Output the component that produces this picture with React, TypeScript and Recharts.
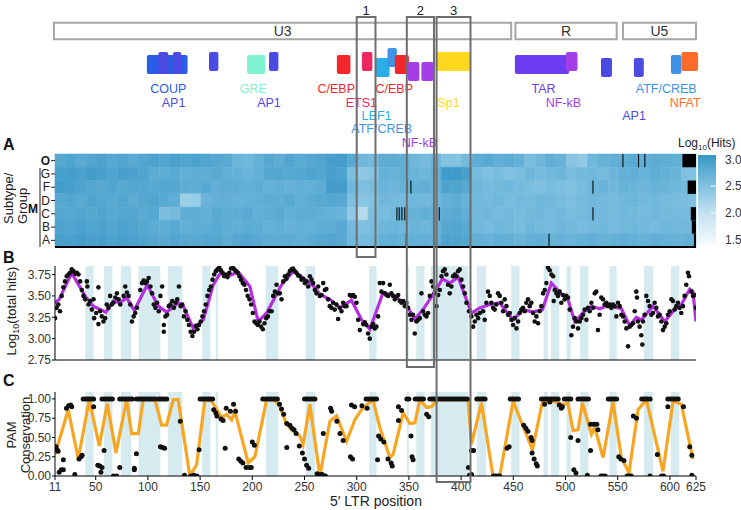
import React from 'react';
import { ComposedChart, XAxis, YAxis, ReferenceArea, ReferenceDot, ReferenceLine, Scatter, Line } from 'recharts';

const FONT = '"Liberation Sans", Arial, Helvetica, sans-serif';
const X_DOMAIN: [number, number] = [11, 625];
const X_TICKS = [11, 50, 100, 150, 200, 250, 300, 350, 400, 450, 500, 550, 600, 625];
const PLOT_MARGIN_LEFT = 55;
const PLOT_MARGIN_RIGHT = 45;

// ---- LTR regions and transcription factor sites ----
const regions = [
  { name: 'U3', start: 10, end: 448 },
  { name: 'R', start: 452, end: 549 },
  { name: 'U5', start: 555, end: 625 },
];

const sites = [
  { tf: 'COUP', start: 99, end: 138, lane: 'mid' },
  { tf: 'AP1', start: 110, end: 119.5, lane: 'tall' },
  { tf: 'AP1', start: 124, end: 132, lane: 'tall' },
  { tf: 'AP1', start: 158.5, end: 167.5, lane: 'high' },
  { tf: 'GRE', start: 195, end: 212.5, lane: 'mid' },
  { tf: 'AP1', start: 216, end: 225, lane: 'high' },
  { tf: 'C/EBP', start: 281, end: 294, lane: 'mid' },
  { tf: 'ETS1', start: 305, end: 315, lane: 'high' },
  { tf: 'LEF1', start: 318, end: 331.5, lane: 'low' },
  { tf: 'ATF/CREB', start: 329.5, end: 338.5, lane: 'top' },
  { tf: 'C/EBP', start: 336.5, end: 350, lane: 'mid' },
  { tf: 'NF-kB', start: 349, end: 360, lane: 'lowest' },
  { tf: 'NF-kB', start: 362, end: 373.5, lane: 'lowest' },
  { tf: 'Sp1', start: 375.5, end: 408.5, lane: 'high' },
  { tf: 'TAR', start: 451.5, end: 503.5, lane: 'mid' },
  { tf: 'NF-kB', start: 500.5, end: 511.5, lane: 'high' },
  { tf: 'AP1', start: 534, end: 544.5, lane: 'low' },
  { tf: 'AP1', start: 565.5, end: 575, lane: 'low' },
  { tf: 'ATF/CREB', start: 601, end: 611, lane: 'mid' },
  { tf: 'NFAT', start: 611, end: 627, lane: 'high' },
];

const siteLabels = [
  { tf: 'COUP', pos: 119.6, row: 1 },
  { tf: 'AP1', pos: 124.6, row: 2 },
  { tf: 'GRE', pos: 201, row: 1 },
  { tf: 'AP1', pos: 216, row: 2 },
  { tf: 'C/EBP', pos: 280.4, row: 1 },
  { tf: 'C/EBP', pos: 336, row: 1 },
  { tf: 'ETS1', pos: 304.4, row: 2 },
  { tf: 'LEF1', pos: 319, row: 3 },
  { tf: 'ATF/CREB', pos: 324, row: 4 },
  { tf: 'NF-kB', pos: 360, row: 5 },
  { tf: 'Sp1', pos: 388, row: 2 },
  { tf: 'TAR', pos: 479, row: 1 },
  { tf: 'NF-kB', pos: 498, row: 2 },
  { tf: 'ATF/CREB', pos: 596.5, row: 1 },
  { tf: 'NFAT', pos: 614.6, row: 2 },
  { tf: 'AP1', pos: 565.7, row: 3 },
];

// CRISPR target windows (boxes 1-3)
const windows = [
  { id: '1', start: 300, end: 318, reach: 'heatmap' },
  { id: '2', start: 348, end: 374, reach: 'hits' },
  { id: '3', start: 376.5, end: 409, reach: 'pam' },
];

// ---- heatmap (log10 hits), 10-position columns ----
const heatRows = ['O', 'G', 'F', 'D', 'C', 'B', 'A'];
const heatStarts = [11, 21, 31, 41, 51, 61, 71, 81, 91, 101, 111, 121, 131, 141, 151, 161, 171, 181, 191, 201,
  211, 221, 231, 241, 251, 261, 271, 281, 291, 301, 311, 321, 331, 341, 351, 361, 371, 381, 391, 401,
  411, 421, 431, 441, 451, 461, 471, 481, 491, 501, 511, 521, 531, 541, 551, 561, 571, 581, 591, 601, 611, 621];
const heatO = [2.80, 2.85, 2.78, 2.82, 2.86, 2.80, 2.84, 2.78, 2.83, 2.86, 2.82, 2.88, 2.84, 2.87, 2.83, 2.80, 2.78,
  2.66, 2.62, 2.70, 2.80, 2.76, 2.82, 2.78, 2.80, 2.84, 2.90, 2.92, 2.78, 2.62, 2.60, 2.74, 2.76, 2.72,
  2.62, 2.58, 2.64, 2.50, 2.48, 2.60, 2.74, 2.78, 2.72, 2.76, 2.70, 2.55, 2.62, 2.72, 2.68, 2.45, 2.38,
  2.62, 2.70, 2.72, 2.74, 2.78, 2.72, 2.76, 2.74, 2.70, 2.72, 2.70];
const heatG = [2.90, 2.92, 2.88, 2.94, 2.90, 2.86, 2.90, 2.88, 2.84, 2.76, 2.74, 2.78, 2.72, 2.76, 2.74, 2.78, 2.72,
  2.70, 2.66, 2.72, 2.80, 2.82, 2.78, 2.80, 2.84, 2.82, 2.90, 2.86, 2.55, 2.42, 2.48, 2.70, 2.68, 2.72,
  2.66, 2.62, 2.70, 2.95, 2.96, 2.90, 2.58, 2.52, 2.56, 2.50, 2.55, 2.62, 2.58, 2.60, 2.64, 2.56, 2.60,
  2.62, 2.58, 2.64, 2.70, 2.72, 2.68, 2.74, 2.70, 2.66, 2.52, 2.50];
const heatF = [2.92, 2.90, 2.86, 2.82, 2.80, 2.84, 2.78, 2.82, 2.80, 2.78, 2.82, 2.80, 2.76, 2.74, 2.78, 2.72, 2.76,
  2.74, 2.72, 2.76, 2.70, 2.72, 2.68, 2.72, 2.70, 2.76, 2.94, 2.92, 2.62, 2.54, 2.56, 2.66, 2.64, 2.68,
  2.70, 2.72, 2.68, 2.86, 2.84, 2.80, 2.62, 2.58, 2.60, 2.62, 2.58, 2.55, 2.52, 2.56, 2.54, 2.50, 2.56,
  2.64, 2.66, 2.62, 2.68, 2.66, 2.64, 2.68, 2.66, 2.62, 2.60, 2.60];
const heatD = [2.80, 2.82, 2.78, 2.84, 2.80, 2.78, 2.82, 2.76, 2.80, 2.82, 2.78, 2.74, 2.30, 2.35, 2.66, 2.70, 2.72,
  2.68, 2.70, 2.72, 2.76, 2.74, 2.78, 2.72, 2.76, 2.78, 2.82, 2.80, 2.52, 2.46, 2.50, 2.62, 2.60, 2.58,
  2.62, 2.60, 2.64, 2.70, 2.74, 2.68, 2.60, 2.58, 2.62, 2.56, 2.60, 2.58, 2.62, 2.60, 2.56, 2.54, 2.58,
  2.62, 2.60, 2.58, 2.62, 2.64, 2.60, 2.62, 2.58, 2.56, 2.55, 2.52];
const heatC = [2.80, 2.78, 2.82, 2.80, 2.84, 2.78, 2.80, 2.82, 2.78, 2.80, 2.55, 2.58, 2.74, 2.76, 2.72, 2.78, 2.76,
  2.74, 2.78, 2.72, 2.74, 2.78, 2.72, 2.76, 2.74, 2.72, 2.70, 2.68, 2.40, 2.12, 2.55, 2.56, 2.60, 2.70,
  2.68, 2.72, 2.70, 2.76, 2.78, 2.72, 2.60, 2.62, 2.58, 2.60, 2.56, 2.60, 2.62, 2.58, 2.60, 2.56, 2.58,
  2.62, 2.60, 2.58, 2.62, 2.60, 2.58, 2.62, 2.60, 2.58, 2.58, 2.58];
const heatB = [2.86, 2.84, 2.88, 2.84, 2.86, 2.82, 2.86, 2.84, 2.80, 2.76, 2.74, 2.78, 2.72, 2.76, 2.74, 2.78, 2.74,
  2.72, 2.76, 2.74, 2.70, 2.72, 2.68, 2.72, 2.70, 2.74, 2.76, 2.78, 2.60, 2.52, 2.56, 2.64, 2.66, 2.62,
  2.66, 2.64, 2.68, 2.80, 2.82, 2.78, 2.60, 2.58, 2.62, 2.60, 2.56, 2.62, 2.60, 2.58, 2.62, 2.60, 2.56,
  2.60, 2.62, 2.58, 2.60, 2.62, 2.60, 2.58, 2.62, 2.60, 2.60, 2.60];
const heatA = [2.90, 2.88, 2.92, 2.88, 2.90, 2.86, 2.90, 2.88, 2.84, 2.80, 2.78, 2.82, 2.80, 2.78, 2.82, 2.80, 2.76,
  2.80, 2.82, 2.78, 2.76, 2.74, 2.76, 2.72, 2.76, 2.80, 2.82, 2.78, 2.62, 2.58, 2.60, 2.70, 2.72, 2.68,
  2.70, 2.72, 2.70, 2.86, 2.84, 2.82, 2.70, 2.68, 2.72, 2.70, 2.66, 2.70, 2.72, 2.68, 2.70, 2.66, 2.70,
  2.72, 2.68, 2.70, 2.72, 2.70, 2.68, 2.72, 2.70, 2.68, 2.70, 2.70];
const heatValues: Record<string, number[]> = { O: heatO, G: heatG, F: heatF, D: heatD, C: heatC, B: heatB, A: heatA };

// positions with no data (black)
const heatGaps = [
  { row: 'O', from: 612, to: 625 }, { row: 'O', from: 554.5, to: 555.5 }, { row: 'O', from: 569.5, to: 570.5 },
  { row: 'O', from: 575.5, to: 576.5 },
  { row: 'F', from: 617, to: 625 }, { row: 'F', from: 347.8, to: 348.8 }, { row: 'F', from: 351.4, to: 352.4 },
  { row: 'F', from: 525.8, to: 526.8 },
  { row: 'C', from: 620, to: 625 }, { row: 'C', from: 338, to: 339 }, { row: 'C', from: 340.2, to: 341.2 },
  { row: 'C', from: 342.8, to: 343.8 }, { row: 'C', from: 345.6, to: 346.6 }, { row: 'C', from: 378.6, to: 379.6 },
  { row: 'C', from: 525.8, to: 526.8 },
  { row: 'B', from: 621, to: 625 },
  { row: 'A', from: 623, to: 625 }, { row: 'A', from: 347, to: 348 }, { row: 'A', from: 483.7, to: 484.7 },
];

const colorbarTicks = [1.5, 2.0, 2.5, 3.0];

// ---- shaded positions (PAM windows) ----
const bands = [[40, 48], [58, 66], [74, 84], [91, 112], [119, 133], [152, 160], [165, 167], [213, 225], [251, 260],
  [312, 319], [348, 350], [357, 365], [371, 407], [415, 424], [448, 456], [479, 483], [486, 494], [501, 505],
  [514, 522], [542, 549], [575, 584], [601, 609]];

// ---- panel B: log10(total hits) ----
const hitsDots = [[11, 3.24], [12.6, 3.36], [14.2, 3.4], [15.8, 3.32], [17.4, 3.5], [19, 3.6], [20.6, 3.67], [22.2, 3.73],
  [23.8, 3.75], [25.4, 3.77], [27, 3.81], [28.6, 3.79], [30.3, 3.76], [31.9, 3.77], [33.5, 3.75], [35.1, 3.67],
  [36.7, 3.57], [38.3, 3.5], [39.9, 3.46], [41.5, 3.67], [42, 3.61], [43.1, 3.4], [44.7, 3.44], [46.3, 3.34],
  [47.9, 3.46], [48.5, 3.24], [50.4, 3.3], [52.6, 3.6], [52.6, 3.17], [54.2, 3.32], [55.8, 3.26], [57.4, 3.2],
  [59, 3.24], [60.6, 3.4], [62.2, 3.36], [63.8, 3.5], [65.4, 3.4], [67, 3.42], [68.7, 3.48], [70.3, 3.53],
  [71.9, 3.46], [73.5, 3.4], [76.7, 3.5], [78.3, 3.61], [79.9, 3.54], [81.5, 3.5], [83.1, 3.4], [84.7, 3.2],
  [86.3, 3.26], [87.9, 3.3], [89.5, 3.36], [92.7, 3.57], [94.3, 3.65], [95.9, 3.68], [97.5, 3.65], [99.1, 3.67],
  [100.7, 3.71], [102.4, 3.61], [104, 3.53], [105.6, 3.4], [107.2, 3.36], [108.8, 3.42], [110.4, 3.32], [112, 3.5],
  [113.6, 3.61], [115.2, 3.16], [115.2, 3.08], [116.8, 3.26], [118.4, 3.28], [120, 3.38], [121.7, 3.4], [123.3, 3.44],
  [124.9, 3.36], [126.5, 3.42], [128.1, 3.46], [129.7, 3.61], [131.3, 3.38], [132.9, 3.4], [134.5, 3.26], [136.1, 3.32],
  [137.7, 3.22], [139.3, 3.16], [140.9, 3.08], [142.6, 3.03], [144.2, 3.08], [145.8, 3.15], [147.4, 3.11], [149, 3.16],
  [150.6, 3.2], [152.2, 3.26], [153.8, 3.32], [155.4, 3.4], [157, 3.5], [158.7, 3.57], [160.3, 3.61], [161.9, 3.69],
  [163.5, 3.75], [165.1, 3.79], [166.7, 3.81], [168.3, 3.83], [169.9, 3.8], [171.5, 3.77], [173.1, 3.73], [174.7, 3.75],
  [176.3, 3.72], [178, 3.77], [179.6, 3.82], [181.2, 3.83], [182.8, 3.81], [184.4, 3.79], [186, 3.77], [187.6, 3.73],
  [189.2, 3.69], [190.8, 3.65], [192.4, 3.63], [194, 3.57], [195.6, 3.5], [197.3, 3.46], [198.9, 3.4], [200.5, 3.3],
  [202.1, 3.2], [203.7, 3.18], [205.3, 3.16], [206.9, 3.2], [208.5, 3.14], [210.1, 3.11], [211.7, 3.18], [213.3, 3.24],
  [214.9, 3.26], [216.5, 3.32], [218.4, 3.32], [220, 3.5], [221.6, 3.55], [223.2, 3.63], [224.6, 3.53], [226.4, 3.53],
  [228, 3.46], [229.6, 3.67], [231.2, 3.73], [232.8, 3.7], [234.4, 3.75], [236, 3.79], [237.5, 3.81], [239.1, 3.82],
  [240.7, 3.79], [242.3, 3.77], [243.9, 3.74], [245.5, 3.73], [247.1, 3.69], [248.7, 3.7], [250.3, 3.65], [251.9, 3.67],
  [253.5, 3.61], [255.1, 3.73], [256.7, 3.69], [258.3, 3.65], [259.9, 3.57], [261.5, 3.53], [263.1, 3.61], [264.7, 3.5],
  [266.3, 3.51], [267.9, 3.65], [269.5, 3.57], [271, 3.58], [272.6, 3.46], [274.2, 3.38], [275.8, 3.36], [277.4, 3.42],
  [279, 3.34], [280.6, 3.4], [282.2, 3.23], [283.8, 3.36], [285.4, 3.32], [287, 3.42], [288.6, 3.38], [290.2, 3.38],
  [293.4, 3.51], [295, 3.5], [296.6, 3.51], [298.2, 3.49], [299.8, 3.42], [301.4, 3.22], [303, 3.1], [306.2, 3.17],
  [307.8, 3.19], [309.3, 3.16], [310.9, 3.06], [312.5, 3.0], [314.1, 3.14], [315.7, 3.17], [317.3, 3.12], [318.9, 3.14],
  [320.5, 3.26], [322.1, 3.65], [323.7, 3.55], [325.3, 3.65], [326.9, 3.53], [328.5, 3.51], [330.1, 3.5], [331.7, 3.63],
  [333.3, 3.53], [334.9, 3.5], [336.5, 3.46], [338.1, 3.49], [339.7, 3.51], [341.3, 3.44], [342.9, 3.42], [344.5, 3.44],
  [346.1, 3.38], [347.6, 3.42], [349.2, 3.36], [350.8, 3.28], [352.4, 3.22], [354, 3.28], [355.6, 3.06], [357.2, 3.2],
  [358.8, 3.22], [360.4, 3.24], [362, 3.53], [363.6, 3.32], [365.2, 3.28], [366.8, 3.26], [368.4, 3.3], [370, 3.5],
  [371.6, 3.67], [373.2, 3.61], [374.8, 3.53], [376.4, 3.38], [378, 3.51], [379.6, 3.57], [381.2, 3.73], [382.7, 3.79],
  [384.3, 3.81], [385.9, 3.75], [387.5, 3.63], [389.1, 3.53], [390.7, 3.61], [392.3, 3.73], [393.9, 3.75], [395.5, 3.73],
  [397.1, 3.79], [398.7, 3.81], [400.3, 3.69], [401.9, 3.61], [403.5, 3.53], [405.1, 3.42], [407.6, 3.32], [409.9, 3.26],
  [411.5, 3.14], [413.1, 3.2], [414.7, 3.28], [416.3, 3.24], [417.9, 3.3], [421, 3.32], [422.6, 3.22], [424.2, 3.42],
  [425.8, 3.55], [427.4, 3.5], [429, 3.42], [430.6, 3.36], [432.2, 3.34], [433.8, 3.4], [435.4, 3.53], [437, 3.5],
  [438.6, 3.42], [440.2, 3.32], [441.8, 3.46], [443.4, 3.38], [445, 3.28], [446.6, 3.3], [448.2, 3.22], [449.8, 3.16],
  [451.4, 3.24], [453, 3.12], [454.6, 3.2], [456.1, 3.3], [457.7, 3.34], [459.3, 3.36], [460.9, 3.32], [462.5, 3.42],
  [464.1, 3.46], [465.7, 3.38], [467.3, 3.42], [468.9, 3.3], [470.5, 3.2], [472.1, 3.26], [473.7, 3.18], [475.3, 3.32],
  [476.9, 3.38], [478.5, 3.53], [480.1, 3.57], [481.7, 3.65], [483.3, 3.83], [484.9, 3.8], [486.5, 3.75], [488.1, 3.73],
  [488.7, 3.44], [489.7, 3.57], [491.3, 3.53], [492.8, 3.5], [494.4, 3.55], [496, 3.42], [497.6, 3.51], [499.2, 3.46],
  [500.8, 3.5], [502.4, 3.48], [504, 3.34], [505.6, 3.04], [507.2, 3.14], [508.8, 3.24], [510.4, 3.2], [512, 3.12],
  [513.6, 3.2], [515.2, 3.24], [516.8, 3.28], [518.4, 3.34], [520, 3.22], [521.6, 3.36], [523.2, 3.32], [524.8, 3.42],
  [526.4, 3.36], [528, 3.53], [529.5, 3.55], [531.1, 3.1], [532.7, 3.28], [534.3, 3.48], [535.9, 3.46], [537.5, 3.4],
  [539.1, 3.42], [540.7, 3.38], [542.3, 3.4], [543.9, 3.36], [545.5, 3.4], [547.1, 3.38], [548.7, 3.26], [550.3, 3.42],
  [551.9, 3.38], [553.5, 3.28], [555.1, 3.26], [556.7, 3.2], [558.3, 3.12], [559.9, 2.91], [561.5, 3.14], [563.1, 3.16],
  [564.7, 3.18], [566.3, 3.32], [567.8, 3.55], [568.5, 3.48], [569.4, 3.2], [571, 3.14], [572.6, 3.04], [573.6, 2.93],
  [574.2, 3.2], [575.8, 3.28], [577.4, 3.5], [579, 3.44], [580.6, 3.38], [582.2, 3.28], [583.8, 3.3], [585.4, 3.42],
  [587, 3.36], [588.6, 3.26], [590.2, 3.28], [591.8, 3.2], [593.4, 3.1], [595, 3.14], [596.6, 3.18], [598.2, 3.28],
  [599.8, 3.32], [601.4, 3.46], [603, 3.44], [604.5, 3.34], [606.1, 3.38], [607.7, 3.42], [609.3, 3.36], [610.9, 3.3],
  [612.5, 3.38], [614.1, 3.5], [615.7, 3.63], [617.3, 3.77], [618.3, 3.73], [620.5, 3.55], [622.1, 3.5], [623.7, 3.51],
  [625, 3.36]];

const hitsTrend = [[11, 3.42], [15.1, 3.46], [27, 3.77], [39.7, 3.5], [47.7, 3.38], [59.8, 3.31], [66.8, 3.44], [73.2, 3.42],
  [79.6, 3.48], [86.9, 3.33], [99.4, 3.63], [109.9, 3.38], [117.9, 3.31], [129.1, 3.42], [133.9, 3.38], [143.4, 3.12],
  [153, 3.22], [162.6, 3.63], [169, 3.76], [178.5, 3.74], [186.5, 3.78], [197.7, 3.61], [205.6, 3.2], [213.7, 3.3],
  [228, 3.63], [239.2, 3.79], [248.7, 3.71], [258.3, 3.62], [264.7, 3.52], [274.3, 3.46], [283.9, 3.36], [295, 3.45],
  [304.6, 3.22], [312.6, 3.11], [325.3, 3.54], [336.5, 3.5], [347.7, 3.39], [355.7, 3.23], [363.6, 3.34], [373.2, 3.52],
  [382.2, 3.7], [389.2, 3.65], [397.1, 3.72], [409.9, 3.3], [417.9, 3.36], [427.5, 3.4], [437, 3.42], [441.8, 3.34],
  [449.8, 3.22], [459.4, 3.34], [469, 3.31], [477.9, 3.34], [486.5, 3.65], [496.1, 3.52], [502.4, 3.46], [508.8, 3.2],
  [518.4, 3.32], [524.8, 3.38], [532.8, 3.35], [540.7, 3.39], [553.5, 3.35], [561.5, 3.15], [567.9, 3.25], [572.7, 3.22],
  [583.8, 3.38], [595, 3.2], [604.6, 3.34], [611, 3.4], [619, 3.58], [622.1, 3.55], [625, 3.2]];

// ---- panel C: PAM conservation ----
const pamDots = [
  [38, 1], [40, 1], [42, 1], [44, 1], [46, 1], [48, 1], [56, 1], [58, 1], [60, 1], [62, 1], [64, 1], [66, 1],
  [73, 1], [75, 1], [77, 1], [79, 1], [81, 1], [83, 1], [85, 1], [89, 1], [91, 1], [93, 1], [95, 1], [97, 1], [99, 1],
  [101, 1], [103, 1], [105, 1], [107, 1], [110, 1], [112, 1], [114, 1], [116, 1], [118, 1], [150, 1], [152, 1],
  [154, 1], [156, 1], [158, 1], [160, 1], [162, 1], [210, 1], [212, 1], [214, 1], [216, 1], [218, 1], [220, 1],
  [222, 1], [224, 1], [250, 1], [252, 1], [254, 1], [256, 1], [258, 1], [260, 1], [309, 1], [311, 1], [313, 1],
  [315, 1], [317, 1], [319, 1], [348, 1], [350, 1], [356, 1], [358, 1], [360, 1], [362, 1], [364, 1], [370, 1],
  [372, 1], [374, 1], [376, 1], [378, 1], [380, 1], [382, 1], [384, 1], [386, 1], [388, 1], [390, 1], [392, 1],
  [394, 1], [396, 1], [398, 1], [400, 1], [402, 1], [404, 1], [406, 1], [415, 1], [417, 1], [419, 1], [421, 1],
  [423, 1], [447, 1], [449, 1], [451, 1], [453, 1], [455, 1], [477, 1], [479, 1], [481, 1], [483, 1], [485, 1],
  [487, 1], [489, 1], [491, 1], [493, 1], [499, 1], [501, 1], [503, 1], [505, 1], [512, 1], [514, 1], [516, 1],
  [518, 1], [520, 1], [522, 1], [541, 1], [543, 1], [545, 1], [547, 1], [549, 1], [573, 1], [575, 1], [577, 1],
  [579, 1], [581, 1], [598, 1], [600, 1], [602, 1], [604, 1], [606, 1], [608, 1],
  [12, 0.38], [13, 0.34], [14, 0.32], [17, 0.08], [19, 0.08], [19, 0.21], [22, 0.88], [24, 0.91], [26, 0.92],
  [27, 0.9], [34, 0.22], [36, 0.25], [37, 0.27], [48, 0.9], [52, 0.14], [54, 0.13], [56, 0.11], [58, 0.33],
  [73, 0.11], [87, 0.1], [87, 0.08], [89, 0.29], [112, 0.38], [114, 0.37], [116, 0.36], [131, 0.71], [149, 0.34],
  [163, 0.86], [165, 0.82], [166, 0.78], [170, 0.74], [172, 0.72], [174, 0.36], [175, 0.88], [179, 0.84],
  [182, 0.93], [184, 0.84], [187, 0.22], [189, 0.19], [191, 0.17], [194, 0.11], [197, 0.11], [199, 0.11],
  [200, 0.44], [202, 0.4], [226, 0.93], [228, 0.87], [230, 0.8], [233, 0.68], [233, 0.37], [236, 0.66], [238, 0.62],
  [240, 0.6], [242, 0.55], [245, 0.39], [248, 0.3], [250, 0.22], [252, 0.14], [254, 0.1], [268, 0.55], [275, 0.88],
  [276, 0.84], [281, 0.71], [284, 0.55], [287, 0.46], [294, 0.25], [296, 0.22], [295, 0.92], [298, 0.9], [305, 0.91],
  [310, 0.88], [321, 0.52], [323, 0.48], [326, 0.44], [320, 0.21], [330, 0.22], [333, 0.17], [334, 0.13], [340, 0.9],
  [343, 0.85], [340, 0.72], [352, 0.52], [353, 0.25], [354, 0.21], [367, 0.8], [369, 0.77], [407, 0.11], [410, 0.33],
  [412, 0.33], [444, 0.36], [446, 0.38], [460, 0.66], [462, 0.62], [464, 0.58], [467, 0.5], [468, 0.46], [468, 0.3],
  [470, 0.22], [472, 0.16], [473, 0.13], [480, 0.93], [485, 0.96], [494, 0.92], [496, 0.88], [497, 0.9], [505, 0.5],
  [512, 0.46], [508, 0.08], [524, 0.67], [527, 0.67], [530, 0.67], [531, 0.6], [524, 0.33], [551, 0.25], [553, 0.22],
  [556, 0.2], [565, 0.78], [568, 0.75], [588, 0.28], [598, 0.9], [613, 0.9], [619, 0.38], [621, 0.27],
  [15, 0.05], [30, 0.02], [55, 0.05], [67, 0], [70, 0], [135, 0.01], [141, 0], [144, 0.01], [147, 0], [262, 0.03],
  [265, 0.02], [267, 0.02], [270, 0], [408, 0.01], [410, 0.02], [431, 0], [433, 0], [435, 0], [437, 0], [510, 0.04],
  [521, 0.01], [534, 0], [536, 0], [538, 0], [559, 0], [561, 0], [563, 0], [581, 0], [592, 0], [594, 0], [621, 0.01]];

const pamTrend = [[11, 0.28], [23.7, 0.86], [33.3, 0.22], [43.8, 0.99], [53.4, 0.39], [61.1, 0.94], [69.4, 0.3],
  [79.6, 0.99], [84.4, 0.55], [90.8, 0.55], [95.5, 0.99], [106.7, 0.99], [113.1, 0.66], [117.9, 0.66], [124.3, 0.99],
  [129, 0.99], [140.2, 0], [146.7, 0.15], [154.6, 0.99], [161, 0.97], [170.6, 0.76], [175.4, 0.8], [180.2, 0.73],
  [183.3, 0.84], [196.1, 0.17], [202.5, 0.25], [213.7, 0.99], [220, 0.99], [225.7, 0.93], [232.8, 0.67], [239.1, 0.58],
  [245.6, 0.52], [248.7, 0.41], [255.1, 0.93], [264.7, 0], [274.3, 0.71], [280.7, 0.78], [290.3, 0.45], [298.2, 0.73],
  [304.6, 0.86], [312.6, 0.96], [315.7, 0.98], [322.2, 0.63], [331.7, 0.24], [334.9, 0.28], [344.5, 0.82],
  [350.9, 0.68], [355.7, 0.69], [360.5, 0.99], [366.8, 0.89], [371.6, 0.9], [377, 0.99], [406.7, 0.99], [409.9, 0.41],
  [419.5, 0.95], [430.6, 0], [437, 0], [449.8, 0.97], [468.3, 0.34], [477.9, 0.96], [488.1, 0.97], [497.6, 0.93],
  [502.4, 0.94], [507.2, 0.59], [512, 0.6], [516.2, 0.95], [524.8, 0.54], [528, 0.63], [536, 0.24], [545.5, 0.96],
  [553.5, 0.24], [560.8, 0.04], [569.5, 0.86], [577.5, 0.99], [593.4, 0.06], [603, 0.97], [611, 0.93], [622.1, 0.22]];

// ---- styles ----
const TF_COLORS: Record<string, string> = {
  COUP: '#2a5ce6', AP1: '#4b4be3', GRE: '#7ff2d0', 'C/EBP': '#f2262b', ETS1: '#ee2660', LEF1: '#29aee8',
  'ATF/CREB': '#3f93e6', 'NF-kB': '#a53ee6', Sp1: '#ffd91f', TAR: '#6d3cf0', NFAT: '#ff6b2b',
};
const LANES: Record<string, [number, number]> = {
  top: [48, 67], high: [52, 71], tall: [52, 74], mid: [55, 74], low: [58, 77], lowest: [62, 81],
};
const LABEL_ROWS: Record<number, number> = { 1: 89, 2: 103, 3: 115.5, 4: 128.5, 5: 143 };
const WINDOW_BOTTOM: Record<string, number> = { heatmap: 257, hits: 367, pam: 482 };
const WINDOW_TOP = 17;
const BAND_FILL = '#d6ebef';

const HEAT_STOPS: [number, number[]][] = [
  [1.5, [247, 251, 253]], [2.0, [196, 226, 240]], [2.5, [130, 194, 225]], [3.0, [56, 151, 199]],
];
const hitsColor = (v: number) => {
  const c = Math.max(1.5, Math.min(3.0, v));
  for (let i = 0; i < HEAT_STOPS.length - 1; i++) {
    const [a, ca] = HEAT_STOPS[i];
    const [b, cb] = HEAT_STOPS[i + 1];
    if (c <= b) {
      const t = (c - a) / (b - a);
      const rgb = ca.map((x, k) => Math.round(x + (cb[k] - x) * t));
      return `rgb(${rgb.join(',')})`;
    }
  }
  return 'rgb(56,151,199)';
};

const toPoints = (rows: number[][]) => rows.map(([pos, val]) => ({ pos, val }));
const smallDot = (r: number) => (props: any) => <circle cx={props.cx} cy={props.cy} r={r} fill="#111" />;

const HeatTick = (props: any) => {
  const label = heatRows[6 - Math.floor(props.payload.value)];
  return (
    <text x={props.x} y={props.y} dy={4} textAnchor="end" fontSize={12} fill="#222"
      fontWeight={label === 'O' ? 'bold' : 'normal'}>{label}</text>
  );
};

const abs = (top: number, height: number, left = 0, width = 741): React.CSSProperties => ({
  position: 'absolute', top, left, width, height,
});

export default function App() {
  return (
    <div style={{ position: 'absolute', left: 0, top: 0, width: 741, height: 510, background: '#fff', fontFamily: FONT, overflow: 'hidden' }}>
      {/* LTR map */}
      <div style={abs(0, 152)}>
        <ComposedChart width={741} height={152} margin={{ top: 0, right: PLOT_MARGIN_RIGHT, bottom: 0, left: PLOT_MARGIN_LEFT }}>
          <XAxis type="number" dataKey="pos" domain={X_DOMAIN} allowDataOverflow hide />
          <YAxis type="number" domain={[0, 152]} reversed allowDataOverflow hide />
          {regions.map((r) => (
            <ReferenceArea key={r.name} x1={r.start} x2={r.end} y1={22.7} y2={39.3} fill="#fff" fillOpacity={1}
              stroke="#a6a6a6" strokeWidth={2} ifOverflow="visible"
              label={{ value: r.name, position: 'center', fill: '#333', fontSize: 14 }} />
          ))}
          {sites.map((s, i) => (
            <ReferenceArea key={`site-${i}`} x1={s.start} x2={s.end} y1={LANES[s.lane][0]} y2={LANES[s.lane][1]}
              fill={TF_COLORS[s.tf]} fillOpacity={1} stroke="none" radius={2} ifOverflow="visible" />
          ))}
          {siteLabels.map((l, i) => (
            <ReferenceDot key={`lab-${i}`} x={l.pos} y={LABEL_ROWS[l.row]} r={0} fill="none" stroke="none" ifOverflow="visible"
              label={{ value: l.tf, position: 'center', fill: TF_COLORS[l.tf], fontSize: 12.5 }} />
          ))}
        </ComposedChart>
      </div>

      {/* A: heatmap */}
      <div style={abs(140, 115)}>
        <ComposedChart width={741} height={115} margin={{ top: 14, right: PLOT_MARGIN_RIGHT, bottom: 8, left: 30 }}>
          <XAxis type="number" dataKey="pos" domain={X_DOMAIN} allowDataOverflow hide />
          <YAxis type="number" domain={[0, 7]} allowDataOverflow width={25} ticks={[0.5, 1.5, 2.5, 3.5, 4.5, 5.5, 6.5]}
            tick={<HeatTick />} axisLine={false} tickLine={{ stroke: '#222' }} tickSize={4} tickMargin={1} interval={0} />
          {heatRows.map((row, r) => heatValues[row].map((v, i) => (
            <ReferenceArea key={`${row}-${i}`} x1={heatStarts[i]} x2={heatStarts[i + 1] ?? 625} y1={6 - r} y2={7 - r}
              fill={hitsColor(v)} fillOpacity={1} stroke={hitsColor(v)} strokeWidth={0.6} ifOverflow="visible" />
          )))}
          {heatGaps.map((g, i) => {
            const r = heatRows.indexOf(g.row);
            return (
              <ReferenceArea key={`gap-${i}`} x1={g.from} x2={g.to} y1={6 - r} y2={7 - r}
                fill="#000" fillOpacity={1} stroke="none" ifOverflow="visible" />
            );
          })}
          <ReferenceLine y={0} stroke="#000" strokeWidth={2} ifOverflow="visible" />
        </ComposedChart>
      </div>

      {/* colour bar */}
      <div style={abs(140, 120, 690, 51)}>
        <ComposedChart width={51} height={120} margin={{ top: 15, right: 0, bottom: 15, left: 8 }}>
          <defs>
            <linearGradient id="hitsGrad" x1="0" y1="1" x2="0" y2="0">
              <stop offset="0%" stopColor={hitsColor(1.4)} />
              <stop offset="35%" stopColor={hitsColor(2.0)} />
              <stop offset="65%" stopColor={hitsColor(2.5)} />
              <stop offset="100%" stopColor={hitsColor(3.08)} />
            </linearGradient>
          </defs>
          <XAxis type="number" dataKey="x" domain={[0, 1]} allowDataOverflow hide />
          <YAxis type="number" orientation="right" domain={[1.4, 3.08]} allowDataOverflow width={25}
            ticks={colorbarTicks} interval={0} tickFormatter={(v: number) => v.toFixed(1)} axisLine={false} tickLine={false}
            tickMargin={3} tick={{ fontSize: 12, fill: '#333' }} />
          <ReferenceArea x1={0} x2={1} y1={1.4} y2={3.08} fill="url(#hitsGrad)" fillOpacity={1} stroke="none" ifOverflow="visible" />
          {colorbarTicks.slice(1, 3).map((t) => (
            <ReferenceLine key={t} segment={[{ x: 0.72, y: t }, { x: 1, y: t }]} stroke="#fff" strokeWidth={1} ifOverflow="visible" />
          ))}
        </ComposedChart>
      </div>

      {/* B: total hits */}
      <div style={abs(250, 120)}>
        <ComposedChart width={741} height={120} margin={{ top: 16, right: PLOT_MARGIN_RIGHT, bottom: 10, left: 25 }}>
          <XAxis type="number" dataKey="pos" domain={X_DOMAIN} allowDataOverflow hide />
          <YAxis type="number" dataKey="val" domain={[2.75, 3.85]} allowDataOverflow width={30}
            ticks={[2.75, 3.0, 3.25, 3.5, 3.75]} interval={0} tickFormatter={(v: number) => v.toFixed(2)}
            axisLine={{ stroke: '#000' }} tickLine={{ stroke: '#000' }} tickSize={3} tickMargin={1}
            tick={{ fontSize: 12, fill: '#333' }} />
          {bands.map(([a, b], i) => (
            <ReferenceArea key={`bb-${i}`} x1={a} x2={b} y1={2.75} y2={3.85} fill={BAND_FILL} fillOpacity={1} stroke="none" />
          ))}
          <ReferenceLine y={2.75} stroke="#000" strokeWidth={1.2} />
          <Scatter data={toPoints(hitsDots)} dataKey="val" shape={smallDot(2.3)} isAnimationActive={false} />
          <Line data={toPoints(hitsTrend)} dataKey="val" type="linear" stroke="#b52fe0" strokeWidth={3.2} dot={false}
            isAnimationActive={false} />
        </ComposedChart>
      </div>

      {/* C: PAM conservation */}
      <div style={abs(375, 135)}>
        <ComposedChart width={741} height={135} margin={{ top: 17, right: PLOT_MARGIN_RIGHT, bottom: 0, left: 25 }}>
          <XAxis type="number" dataKey="pos" domain={X_DOMAIN} allowDataOverflow ticks={X_TICKS} interval={0} height={34}
            axisLine={{ stroke: '#000', strokeWidth: 1.2 }} tickLine={{ stroke: '#000' }} tickSize={4} tickMargin={2}
            tick={{ fontSize: 12, fill: '#333' }} />
          <YAxis type="number" dataKey="val" domain={[0, 1.09]} allowDataOverflow width={30}
            ticks={[0, 0.25, 0.5, 0.75, 1]} interval={0} tickFormatter={(v: number) => v.toFixed(2)}
            axisLine={{ stroke: '#000' }} tickLine={{ stroke: '#000' }} tickSize={3} tickMargin={1}
            tick={{ fontSize: 12, fill: '#333' }} />
          {bands.map(([a, b], i) => (
            <ReferenceArea key={`cb-${i}`} x1={a} x2={b} y1={0} y2={1.09} fill={BAND_FILL} fillOpacity={1} stroke="none" />
          ))}
          <Scatter data={toPoints(pamDots)} dataKey="val" shape={smallDot(2.5)} isAnimationActive={false} />
          <Line data={toPoints(pamTrend)} dataKey="val" type="linear" stroke="#f6a623" strokeWidth={3.2} dot={false}
            isAnimationActive={false} />
        </ComposedChart>
      </div>

      {/* titles and axis labels */}
      <svg width={741} height={510} style={{ position: 'absolute', left: 0, top: 0, pointerEvents: 'none' }} fontFamily={FONT}>
        <text x={3} y={150} fontSize={16} fontWeight="bold" fill="#111">A</text>
        <text x={3} y={263} fontSize={16} fontWeight="bold" fill="#111">B</text>
        <text x={3} y={386} fontSize={16} fontWeight="bold" fill="#111">C</text>
        <text x={678} y={147} fontSize={12} fill="#222">Log<tspan dy={3} fontSize={8}>10</tspan><tspan dy={-3}>(Hits)</tspan></text>
        <text transform="translate(13,224) rotate(-90)" fontSize={13} fill="#222">Subtype/</text>
        <text transform="translate(27,224) rotate(-90)" fontSize={13} fill="#222">Group</text>
        <text x={33} y={213} fontSize={12} fontWeight="bold" fill="#111" textAnchor="middle">M</text>
        <line x1={40} y1={168} x2={40} y2={247} stroke="#222" strokeWidth={1} />
        <text transform="translate(16,311) rotate(-90)" fontSize={13} fill="#222" textAnchor="middle">
          Log<tspan dy={3} fontSize={9}>10</tspan><tspan dy={-3}>(total hits)</tspan>
        </text>
        <text transform="translate(16,435) rotate(-90)" fontSize={13} fill="#222" textAnchor="middle">PAM</text>
        <text transform="translate(30,435) rotate(-90)" fontSize={13} fill="#222" textAnchor="middle">Conservation</text>
        <text x={376} y={506} fontSize={14} fill="#222" textAnchor="middle">5′ LTR position</text>
      </svg>

      {/* target windows spanning the panels */}
      <div style={{ ...abs(0, 510), pointerEvents: 'none' }}>
        <ComposedChart width={741} height={510} margin={{ top: 0, right: PLOT_MARGIN_RIGHT, bottom: 0, left: PLOT_MARGIN_LEFT }}>
          <XAxis type="number" dataKey="pos" domain={X_DOMAIN} allowDataOverflow hide />
          <YAxis type="number" domain={[0, 510]} reversed allowDataOverflow hide />
          {windows.map((w) => (
            <ReferenceArea key={w.id} x1={w.start} x2={w.end} y1={WINDOW_TOP} y2={WINDOW_BOTTOM[w.reach]} fill="none"
              stroke="#6e6e6e" strokeWidth={2} ifOverflow="visible"
              label={{ value: w.id, position: 'top', offset: 2, fill: '#222', fontSize: 13 }} />
          ))}
        </ComposedChart>
      </div>
    </div>
  );
}
